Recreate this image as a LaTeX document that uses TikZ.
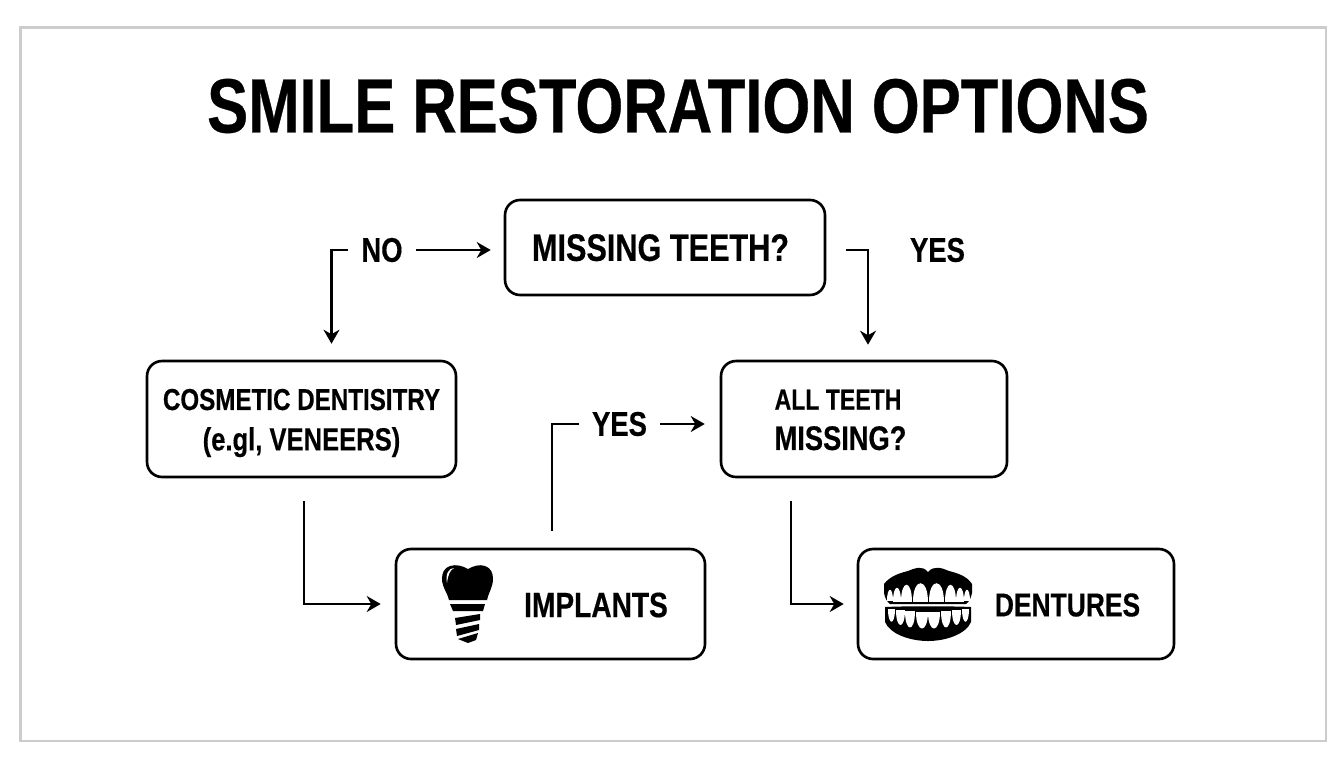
\documentclass[tikz,border=0pt]{standalone}
\usepackage{fontspec}
\setmainfont{Liberation Sans}
\newfontfamily\condfont[FakeStretch=0.8,FakeBold=0.4]{Liberation Sans Bold}
\usetikzlibrary{arrows.meta}
\definecolor{framegray}{HTML}{CCCCCC}
\newcommand{\sized}[1]{\fontsize{#1}{23}\selectfont}
\tikzset{
  flowbox/.style={draw, line width=1.5pt, rounded corners=0.3cm, inner sep=0pt, align=center},
  boxtext/.style={font=\condfont\sized{18}, align=center, inner sep=0pt},
  flowlabel/.style={font=\condfont\sized{19.5}, inner xsep=0.27cm, inner ysep=0pt},
  plainline/.style={line width=1.45pt},
  flowline/.style={plainline, -{Stealth[length=0.28cm,width=0.32cm]}},
}
\begin{document}
\begin{tikzpicture}[x=0.02cm, y=-0.02cm]
  \useasboundingbox (0,0) rectangle (1344,768);
  \draw[framegray, line width=1.6pt] (20.5,27.5) rectangle (1326,741);
  \node[font=\condfont\fontsize{43.8}{50}\selectfont, inner sep=0pt] (title) at (678,106) {SMILE RESTORATION OPTIONS};

  % boxes
  \node[flowbox, minimum width=6.4cm, minimum height=1.9cm, font=\condfont\sized{21.8}, text depth=0pt] (missing) at (665,247.5) {\hspace*{-0.18cm}MISSING TEETH?};
  \node[flowbox, minimum width=6.18cm, minimum height=2.32cm] (cosmetic) at (301.5,419) {};
  \node[boxtext] (cosmetictext) at (301.5,423) {{\sized{17.2}COSMETIC DENTISITRY}\\{\sized{18.2}(e.gl, VENEERS)}};
  \node[flowbox, minimum width=5.72cm, minimum height=2.32cm] (allteeth) at (864,419) {};
  \node[boxtext] (allteethtext) at (838,420) {{\sized{16.4}ALL TEETH}\\\hspace*{0.1cm}{\sized{19.4}MISSING?}};
  \node[flowbox, minimum width=6.18cm, minimum height=2.2cm] (implants) at (550.5,604) {};
  \node[flowlabel, inner xsep=0pt, font=\condfont\sized{20}] (implantstext) at (596,605) {IMPLANTS};
  \node[flowbox, minimum width=6.32cm, minimum height=2.2cm] (dentures) at (1016,604) {};
  \node[flowlabel, inner xsep=0pt, font=\condfont\sized{18.8}] (denturestext) at (1067.5,605) {DENTURES};

  % labels
  \node[flowlabel] (no) at (382,250) {NO};
  \node[flowlabel, inner xsep=0pt] (yesright) at (937.5,250) {YES};
  \node[flowlabel, inner xsep=0.25cm] (yesmid) at (619.5,424) {YES};

  % connectors
  \draw[flowline, shorten >=0.26cm] (no.east) -- (missing.west |- no.east);
  \draw[flowline, shorten >=0.32cm] (no.west) -| ([xshift=0.6cm]cosmetic.north);
  \draw[flowline, shorten <=0.4cm, shorten >=0.3cm] (missing.east |- no.east) -| ([xshift=0.08cm]allteeth.north);
  \draw[flowline, shorten <=0.46cm, shorten >=0.28cm] ([xshift=0.05cm]cosmetic.south) |- (implants.west);
  \draw[plainline, shorten <=0.34cm] ([xshift=0.03cm]implants.north) |- (yesmid.west);
  \draw[flowline, shorten >=0.3cm] (yesmid.east) -- (allteeth.west |- yesmid.east);
  \draw[flowline, shorten <=0.46cm, shorten >=0.26cm] ([xshift=-1.46cm]allteeth.south) |- (dentures.west);

  % implant icon
  \fill (468,569) .. controls (473,566) and (480,564) .. (485,566)
    .. controls (491,568) and (493,573) .. (493,579)
    .. controls (493,587) and (488,594) .. (487,600) -- (449,600)
    .. controls (448,594) and (442,587) .. (442,579)
    .. controls (442,573) and (444,568) .. (450,566)
    .. controls (456,564) and (463,566) .. (468,569) -- cycle;
  \fill[white] (447,583) .. controls (445,574) and (449,568) .. (454,568)
    .. controls (450,570) and (448,575) .. (447,583) -- cycle;
  \fill (450,604) -- (485,604) -- (483,611) -- (453,611) -- cycle;
  \fill (455,618) -- (480,614) -- (480,620) -- (456,625) -- cycle;
  \fill (456,629) -- (479,624) -- (479,630) -- (457,636) -- cycle;
  \fill (458,639) -- (478,633) -- (476,640) -- (468,643) -- cycle;

  % denture icon
  \fill (884,584) .. controls (890,576) and (900,573) .. (908,571)
    .. controls (915,568) and (922,565) .. (928,572)
    .. controls (934,565) and (942,568) .. (949,571)
    .. controls (957,573) and (967,576) .. (972,584)
    -- (972,593) .. controls (971,598) and (969,602) .. (966,604)
    -- (890,604) .. controls (887,602) and (885,598) .. (884,593) -- cycle;
  \fill (885,607) .. controls (905,606) and (950,606) .. (971,607)
    -- (971,622) .. controls (966,634) and (946,641) .. (928,641)
    .. controls (910,641) and (890,634) .. (885,622) -- cycle;
  \foreach \x/\w/\t/\b in {889.5/6/592/601, 896.5/8/589/602, 906/11/585/602, 920/15/583/602, 936/15/583/602, 950/11/585/602, 959.5/8/589/602, 966.5/6/592/601}
    \fill[white] (\x-\w/2,\b) .. controls (\x-\w/2,\t-6) and (\x+\w/2,\t-6) .. (\x+\w/2,\b) -- cycle;
  \foreach \x/\w/\t/\b in {891/7/609/620, 900/9/610/624, 910/10/611/627, 922/12/612/628, 934/12/612/628, 946/10/611/627, 956/9/610/624, 965/7/609/620}
    \fill[white] (\x-\w/2,\t) .. controls (\x-\w/2,\b+6) and (\x+\w/2,\b+6) .. (\x+\w/2,\t) -- cycle;
\end{tikzpicture}
\end{document}
